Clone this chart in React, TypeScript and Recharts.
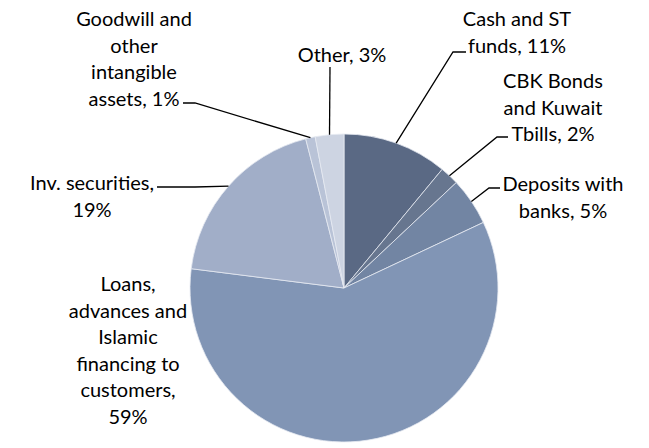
import React from "react";
import { PieChart, Pie, Cell } from "recharts";

const categories = [
  "Cash and ST funds",
  "CBK Bonds and Kuwait Tbills",
  "Deposits with banks",
  "Loans, advances and Islamic financing to customers",
  "Inv. securities",
  "Goodwill and other intangible assets",
  "Other",
];
const shares = [11, 2, 5, 59, 19, 1, 3];
const labelTexts = [
  ["Cash and ST", "funds, 11%"],
  ["CBK Bonds", "and Kuwait", "Tbills, 2%"],
  ["Deposits with", "banks, 5%"],
  ["Loans,", "advances and", "Islamic", "financing to", "customers,", "59%"],
  ["Inv. securities,", "19%"],
  ["Goodwill and", "other", "intangible", "assets, 1%"],
  ["Other, 3%"],
];
const colors = ["#5A6984", "#67768F", "#7285A3", "#8195B5", "#A1AEC8", "#B9C3D7", "#CDD4E2"];

// label layout: text center x, first line center y, leader path points (after pie edge)
const labelLayout = [
  { tx: 517, ty: 18, path: [[453, 52], [466, 52]] },
  { tx: 553, ty: 80, path: [[497, 137], [508, 137]] },
  { tx: 563, ty: 183, path: [[489, 188], [500, 188]] },
  { tx: 128, ty: 283, path: [] },
  { tx: 92, ty: 182, path: [[195, 187], [157, 187]] },
  { tx: 134, ty: 18, path: [[195, 103], [183, 103]] },
  { tx: 342, ty: 54, path: [[330, 67]] },
];
const lineHeight = 26.6;

const data = categories.map((name, i) => ({ name, value: shares[i] }));

const RADIAN = Math.PI / 180;

const renderLabel = (props: any) => {
  const { cx, cy, midAngle, outerRadius, index } = props;
  const lay = labelLayout[index];
  const ex = cx + outerRadius * Math.cos(-midAngle * RADIAN);
  const ey = cy + outerRadius * Math.sin(-midAngle * RADIAN);
  const pts = [[ex, ey], ...lay.path];
  const lines = labelTexts[index];
  return (
    <g key={`lbl-${index}`}>
      {lay.path.length > 0 && (
        <polyline
          points={pts.map((p) => p.join(",")).join(" ")}
          fill="none"
          stroke="#000"
          strokeWidth={1.3}
        />
      )}
      <text
        textAnchor="middle"
        fontFamily="Lato, 'Liberation Sans', sans-serif"
        fontSize={20}
        fill="#000"
      >
        {lines.map((ln, j) => (
          <tspan key={j} x={lay.tx} y={lay.ty + j * lineHeight} dominantBaseline="central">
            {ln}
          </tspan>
        ))}
      </text>
    </g>
  );
};

export default function App() {
  return (
    <div style={{ position: "absolute", left: 0, top: 0, width: 649, height: 448, background: "#fff" }}>
      <PieChart width={649} height={448} margin={{ top: 0, right: 0, bottom: 0, left: 0 }}>
        <Pie
          data={data}
          dataKey="value"
          nameKey="name"
          cx={344}
          cy={288}
          outerRadius={154}
          startAngle={90}
          endAngle={-270}
          stroke="#E6EAF1"
          strokeWidth={0.8}
          label={renderLabel}
          labelLine={false}
          isAnimationActive={false}
        >
          {data.map((d, i) => (
            <Cell key={d.name} fill={colors[i]} />
          ))}
        </Pie>
      </PieChart>
    </div>
  );
}
